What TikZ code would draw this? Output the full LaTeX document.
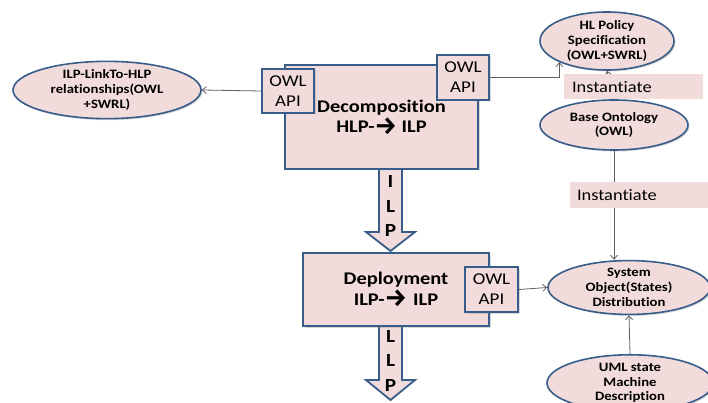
\documentclass[tikz,border=0pt]{standalone}
\usepackage{fontspec}
\setmainfont{Carlito}[FakeStretch=1.15, Ligatures=NoCommon]
\newfontfamily\arfont{Fira Sans}
\usetikzlibrary{arrows.meta,shadows,shapes.geometric}
\definecolor{pk}{RGB}{242,220,219}
\definecolor{bd}{RGB}{56,93,138}
\definecolor{ln}{RGB}{95,95,95}
\newcommand{\rarr}{\raisebox{-1.5pt}{\arfont\bfseries\fontsize{25}{20}\selectfont →}}
\tikzset{
  box/.style={draw=bd, line width=1.8pt, fill=pk, inner sep=0pt, align=center,
    drop shadow={shadow xshift=1.5pt, shadow yshift=-1.5pt, opacity=0.3}},
  owlbox/.style={box, font=\fontsize{16.5}{20}\selectfont},
  mainbox/.style={box, font=\bfseries\fontsize{17.8}{20.5}\selectfont},
  ell/.style={ellipse, draw=bd, line width=1.6pt, fill=pk, inner sep=0pt, align=center,
    font=\bfseries\fontsize{12.8}{14.8}\selectfont,
    drop shadow={shadow xshift=1.5pt, shadow yshift=-1.5pt, opacity=0.3}},
  inst/.style={fill=pk, minimum height=25pt, inner ysep=0pt, align=left,
    font=\fontsize{16}{18}\selectfont},
  conn/.style={draw=ln, line width=0.8pt, -{Straight Barb[length=4pt,width=7pt]}},
  blk/.style={draw=bd, line width=1.8pt, fill=pk, line join=miter},
  letter/.style={font=\bfseries\fontsize{18.5}{20}\selectfont, inner sep=0pt}
}
\begin{document}
\begin{tikzpicture}[x=1pt,y=-1pt]
\useasboundingbox (0,0) rectangle (708,403);
% block arrows (behind boxes)
\coordinate (a1) at (390.5,165);
\draw[blk] (a1) ++(-11.5,0) -- ++(0,67) -- ++(-13,0) -- ++(24.5,19) -- ++(24.5,-19) -- ++(-13,0) -- ++(0,-67) -- cycle;
\coordinate (a2) at (390.5,322);
\draw[blk] (a2) ++(-11.5,0) -- ++(0,58) -- ++(-13,0) -- ++(24.5,20) -- ++(24.5,-20) -- ++(-13,0) -- ++(0,-58) -- cycle;
% main boxes
\node[mainbox, minimum width=193pt, minimum height=104pt] (dec) at (381.5,117) {Decomposition\\HLP-\rarr{} ILP};
\node[mainbox, minimum width=186pt, minimum height=73pt, text width=170pt] (dep) at (396,289.5) {Deployment\\ILP-\rarr{} ILP};
\node[owlbox, minimum width=52pt, minimum height=44pt] (owlL) at (288,91) {OWL\\API};
\node[owlbox, minimum width=52pt, minimum height=45pt] (owlR) at (463,77.5) {OWL\\API};
\node[owlbox, minimum width=53pt, minimum height=45pt] (owlD) at (491.5,289.5) {OWL\\API};
% letters
\node[letter] (l1) at (390.5,182) {I};
\node[letter] (l2) at (390.5,207) {L};
\node[letter] (l3) at (390.5,231) {P};
\node[letter] (m1) at (390.5,336) {L};
\node[letter] (m2) at (390.5,360) {L};
\node[letter] (m3) at (390.5,385) {P};
% ellipses
\node[ell, minimum width=188pt, minimum height=48pt] (lnk) at (107,90) {ILP-LinkTo-HLP\\relationships(OWL\\+SWRL)};
\node[ell, minimum width=134pt, minimum height=58pt] (hlp) at (607,41) {HL Policy\\Specification\\(OWL+SWRL)};
\node[ell, minimum width=148pt, minimum height=50pt] (base) at (614,125) {Base Ontology\\(OWL)};
\node[ell, minimum width=162pt, minimum height=49pt] (sys) at (629,287.5) {System\\Object(States)\\Distribution};
\node[ell, minimum width=166pt, minimum height=52pt] (uml) at (630,383) {UML state\\Machine\\Description};
% connectors
\draw[conn] (owlL.west) -- (lnk.east);
\draw[conn] (owlR.east) -| (hlp.204);
\draw[conn] (base.north) -- (hlp.south);
\draw[conn] (base.south) -- (base.south |- sys.north);
\draw[conn] (owlD.east) -- (sys.west);
\draw[conn] (uml.north) -- (sys.south);
% instantiate labels
\node[inst, text width=123pt, inner xsep=8pt] (i1) at (633.5,87) {Instantiate};
\node[inst, text width=124pt, inner xsep=7pt] (i2) at (639,195) {Instantiate};
\end{tikzpicture}
\end{document}
